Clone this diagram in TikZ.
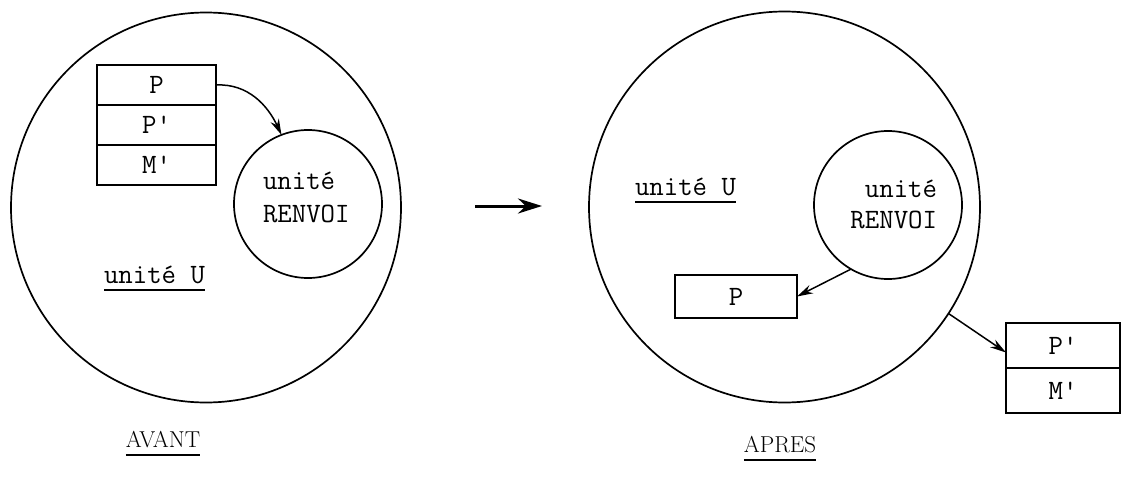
\documentclass[tikz,border=0pt]{standalone}
\usetikzlibrary{arrows.meta}
\newcommand{\labfont}{\fontsize{28}{33}\selectfont\ttfamily}
\newcommand{\ttlfont}{\fontsize{23}{27}\selectfont\rmfamily}
\begin{document}
\begin{tikzpicture}[x=1pt,y=-1pt,
  every node/.style={inner sep=0pt, outer sep=0pt},
  ring/.style={draw, circle, line width=1.7pt},
  cell/.style={draw, line width=1.7pt, font=\labfont},
  lbl/.style={font=\labfont},
  ttl/.style={font=\ttlfont},
  arr/.style={line width=1.5pt, -{Stealth[length=16pt,width=9pt]}},
  uline/.style={line width=1.4pt},
]
\useasboundingbox (0,0) rectangle (1132,482);

% ---------------- AVANT ----------------
\node[ring, minimum size=390] (U1) at (206,207.5) {};
\node[ring, minimum size=148] (R1) at (308,204) {};
\node[lbl, anchor=base west] (r1a) at (263,189) {unité};
\node[lbl, anchor=base west] (r1b) at (263,222) {RENVOI};

\node[cell, minimum width=119, minimum height=40] (t1) at (156.5,85) {P};
\node[cell, minimum width=119, minimum height=40] (t2) at (156.5,125) {P'};
\node[cell, minimum width=119, minimum height=40] (t3) at (156.5,165) {M'};

\draw[arr] (t1.east) to[out=3, in=115] (R1.111);

\node[lbl, anchor=base west] (uu1) at (104,283) {unité U};
\draw[uline] ([yshift=-7pt]uu1.base west) -- ([yshift=-7pt]uu1.base east);

\node[ttl, anchor=base] (av) at (163,447) {AVANT};
\draw[uline] ([yshift=-8pt]av.base west) -- ([yshift=-8pt]av.base east);

% ---------------- transition arrow ----------------
\coordinate (A1) at (475,206);
\coordinate (A2) at (542,206);
\draw[line width=3pt, -{Stealth[length=24pt,width=15pt]}] (A1) -- (A2);

% ---------------- APRES ----------------
\node[ring, minimum size=391] (U2) at (784.5,207) {};
\node[ring, minimum size=148] (R2) at (888,205) {};
\node[lbl, anchor=base east] (r2a) at (937,197) {unité};
\node[lbl, anchor=base east] (r2b) at (937,228) {RENVOI};

\node[lbl, anchor=base west] (uu2) at (635,195) {unité U};
\draw[uline] ([yshift=-7pt]uu2.base west) -- ([yshift=-7pt]uu2.base east);

\node[cell, minimum width=122, minimum height=43] (p2) at (736,296.5) {P};
\draw[arr] (R2.-120) -- (p2.east);

\node[cell, minimum width=114, minimum height=45] (q1) at (1063,345.5) {P'};
\node[cell, minimum width=114, minimum height=45] (q2) at (1063,390.5) {M'};
\draw[arr] (U2.-33) -- ([yshift=-7pt]q1.west);

\node[ttl, anchor=base] (ap) at (780,452) {APRES};
\draw[uline] ([yshift=-8pt]ap.base west) -- ([yshift=-8pt]ap.base east);
\end{tikzpicture}
\end{document}
